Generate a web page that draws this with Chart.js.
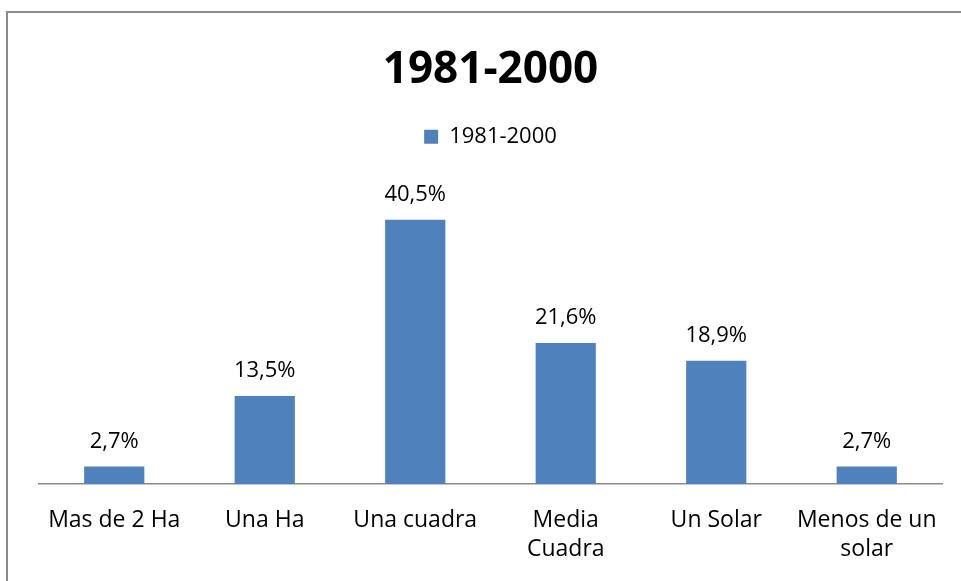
<!DOCTYPE html>
<html>
<head>
<meta charset="utf-8">
<script src="https://cdn.jsdelivr.net/npm/chart.js@4/dist/chart.umd.min.js"></script>
<style>
  html, body { margin: 0; padding: 0; background: #fff; overflow: hidden; }
  #frame { position: absolute; left: 6px; top: 11px; width: 2000px; height: 2000px;
           border-top: 2px solid #8c8c8c; border-left: 2px solid #8c8c8c; }
  #wrap { position: absolute; left: 0; top: 0; width: 961px; height: 581px; }
</style>
</head>
<body>
<div id="frame"></div>
<div id="wrap"><canvas id="barChart"></canvas></div>
<script>
const categories = ['Mas de 2 Ha', 'Una Ha', 'Una cuadra', ['Media', 'Cuadra'], 'Un Solar', ['Menos de un', 'solar']];
const seriesName = '1981-2000';
const values = [2.7, 13.5, 40.5, 21.6, 18.9, 2.7];
const valueLabels = ['2,7%', '13,5%', '40,5%', '21,6%', '18,9%', '2,7%'];

const fontFamily = '"Open Sans", "Noto Sans", sans-serif';

// draws the percentage above each bar
const barLabels = {
    id: 'barLabels',
    afterDatasetsDraw(chart) {
        const ctx = chart.ctx;
        const meta = chart.getDatasetMeta(0);
        ctx.save();
        ctx.font = '22px ' + fontFamily;
        ctx.fillStyle = '#000';
        ctx.textAlign = 'center';
        ctx.textBaseline = 'middle';
        meta.data.forEach((bar, i) => {
            ctx.fillText(valueLabels[i], bar.x, bar.y - 25);
        });
        ctx.restore();
    }
};

const ctx = document.getElementById('barChart').getContext('2d');
new Chart(ctx, {
    type: 'bar',
    data: {
        labels: categories,
        datasets: [{
            label: seriesName,
            data: values,
            backgroundColor: '#4f81bd',
            barPercentage: 0.8,
            categoryPercentage: 0.5
        }]
    },
    options: {
        responsive: true,
        maintainAspectRatio: false,
        animation: false,
        layout: { padding: { left: 39, right: 19, top: 0, bottom: 16 } },
        plugins: {
            title: {
                display: true,
                text: '1981-2000',
                color: '#000',
                font: { family: fontFamily, size: 44, weight: 'bold' },
                padding: { top: 44, bottom: 21 }
            },
            legend: {
                display: true,
                labels: {
                    color: '#000',
                    font: { family: fontFamily, size: 22 },
                    boxWidth: 14,
                    boxHeight: 14,
                    padding: 8
                }
            },
            tooltip: { enabled: false }
        },
        scales: {
            x: {
                grid: { display: false, drawTicks: false },
                border: { display: true, color: '#8c8c8c', width: 1.5 },
                ticks: {
                    color: '#000',
                    font: { family: fontFamily, size: 23, lineHeight: 1.26 },
                    padding: 22,
                    maxRotation: 0,
                    autoSkip: false
                },
                afterFit(scale) { scale.height = 81; }
            },
            y: {
                display: false,
                min: 0,
                max: 50
            }
        }
    },
    plugins: [barLabels]
});
</script>
</body>
</html>
